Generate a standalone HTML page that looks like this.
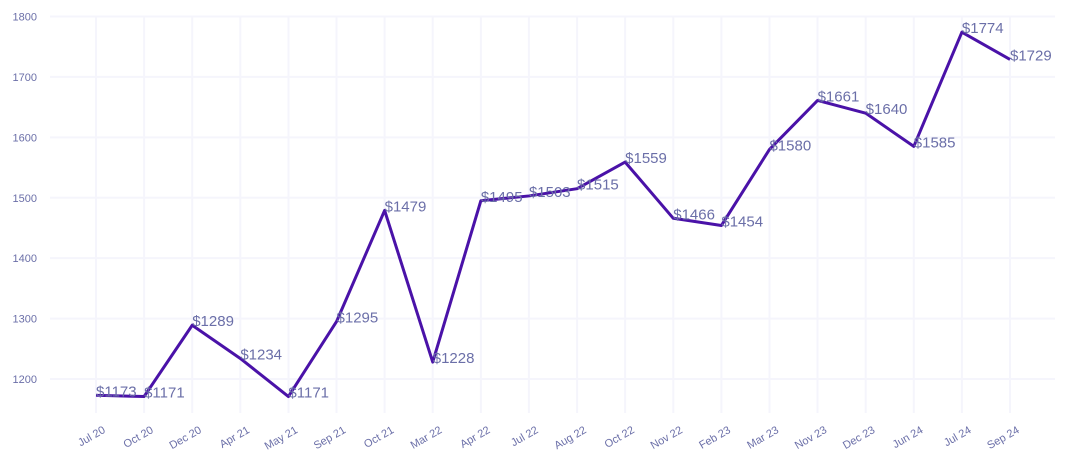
<!DOCTYPE html>
<html><head><meta charset="utf-8">
<style>
body{margin:0;background:#fff;}
svg{display:block;font-family:"Liberation Sans",sans-serif;}
</style></head>
<body>
<svg id="chart" width="1070" height="466" viewBox="0 0 1070 466"></svg>
<script>
const categories=["Jul 20","Oct 20","Dec 20","Apr 21","May 21","Sep 21","Oct 21","Mar 22","Apr 22","Jul 22","Aug 22","Oct 22","Nov 22","Feb 23","Mar 23","Nov 23","Dec 23","Jun 24","Jul 24","Sep 24"];
const values=[1173,1171,1289,1234,1171,1295,1479,1228,1495,1503,1515,1559,1466,1454,1580,1661,1640,1585,1774,1729];
const yTicks=[1200,1300,1400,1500,1600,1700,1800];
const NS="http://www.w3.org/2000/svg";
const svg=document.getElementById('chart');
const x0=96,x1=1010,yTop=16.5,yBot=379;
const xs=i=>x0+(x1-x0)*i/(categories.length-1);
const ys=v=>yBot-(v-1200)*(yBot-yTop)/600;
function mk(t,a){const e=document.createElementNS(NS,t);for(const k in a)e.setAttribute(k,a[k]);svg.appendChild(e);return e;}
yTicks.forEach(v=>{
 const l=mk('line',{x1:50,x2:1055,y1:ys(v),y2:ys(v),stroke:'#f5f5fc','stroke-width':2});
 
 
 const t=mk('text',{x:37,y:ys(v)+4,'text-anchor':'end','font-size':11,fill:'#6b6fa8'});
 t.textContent=v;
 
 
});
categories.forEach((c,i)=>{
 const l=mk('line',{x1:xs(i),x2:xs(i),y1:yTop,y2:413,stroke:'#f5f5fc','stroke-width':2});
 
 
 const t=mk('text',{x:xs(i)+10,y:432,'text-anchor':'end','font-size':11,fill:'#6b6fa8',transform:`rotate(-30 ${xs(i)+10} 432)`});
 t.textContent=c;
 
 
});
const p=mk('polyline',{points:values.map((v,i)=>xs(i)+','+ys(v)).join(' '),fill:'none',stroke:'#4a12a8','stroke-width':3,'stroke-linejoin':'round'});


values.forEach((v,i)=>{
 const t=mk('text',{x:xs(i),y:ys(v)+1,'font-size':15,fill:'#6b6fa8'});
 t.textContent='$'+v;
 
 
});
</script>
</body></html>
